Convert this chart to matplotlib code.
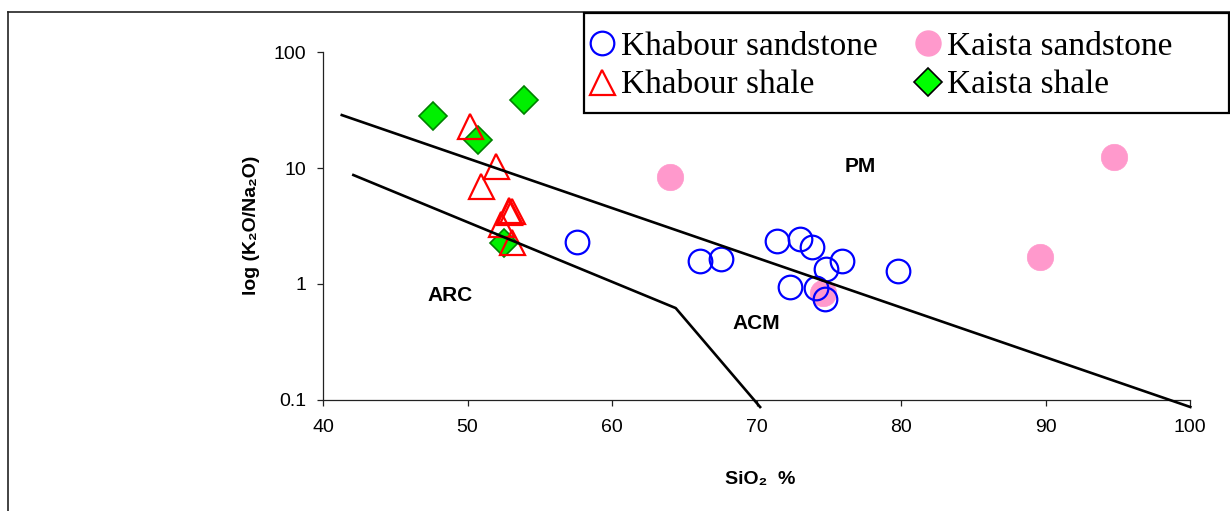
import matplotlib
matplotlib.use("Agg")
import matplotlib.pyplot as plt
from matplotlib.lines import Line2D
from matplotlib.patches import Rectangle
from matplotlib.ticker import FixedLocator, FixedFormatter, NullLocator

# ---------------- data ----------------
khabour_sand_x = [57.6, 66.1, 67.5, 71.4, 73.0, 73.8, 74.8, 75.9, 79.8, 72.3, 74.1, 74.7]
khabour_sand_y = [2.29, 1.59, 1.63, 2.36, 2.45, 2.10, 1.36, 1.59, 1.30, 0.95, 0.92, 0.74]

kaista_sand_x = [64.0, 89.6, 94.7, 74.6]
kaista_sand_y = [8.4, 1.71, 12.4, 0.83]

khabour_shale_x = [50.2, 52.0, 50.9, 52.9, 53.1, 52.9, 52.3, 53.1]
khabour_shale_y = [23.0, 10.5, 7.0, 4.35, 4.26, 4.18, 3.29, 2.29]

kaista_shale_x = [47.6, 53.9, 50.75, 52.5]
kaista_shale_y = [28.2, 38.5, 17.4, 2.24]

# field boundaries
arc_acm_x = [42.1, 64.4, 70.24]
arc_acm_y = [8.7, 0.62, 0.087]
acm_pm_x = [41.3, 100.0]
acm_pm_y = [28.6, 0.087]

field_labels = ["PM", "ARC", "ACM"]
field_x = [77.15, 48.8, 70.0]
field_y = [10.4, 0.80, 0.458]

x_ticks = [40, 50, 60, 70, 80, 90, 100]
y_ticks = [0.1, 1, 10, 100]
y_tick_labels = ["0.1", "1", "10", "100"]

legend_labels = ["Khabour sandstone", "Khabour shale", "Kaista sandstone", "Kaista shale"]

# ---------------- figure ----------------
W, H = 1230, 511
fig = plt.figure(figsize=(W / 100, H / 100), dpi=100)

def fx(px):
    return px / W

def fy(py):
    return 1 - py / H

sans = ["Liberation Sans", "DejaVu Sans"]
serif = ["Liberation Serif", "DejaVu Serif"]

ax = fig.add_axes([fx(323), fy(400), fx(1190.3) - fx(323), fy(52) - fy(400)])
ax.set_yscale("log")
ax.set_xlim(40, 100)
ax.set_ylim(0.1, 100)

for s in ["top", "right"]:
    ax.spines[s].set_visible(False)
for s in ["left", "bottom"]:
    ax.spines[s].set_color("#222222")
    ax.spines[s].set_linewidth(0.9)

ax.xaxis.set_major_locator(FixedLocator(x_ticks))
ax.yaxis.set_major_locator(FixedLocator(y_ticks))
ax.yaxis.set_major_formatter(FixedFormatter(y_tick_labels))
ax.yaxis.set_minor_locator(NullLocator())
ax.xaxis.set_minor_locator(NullLocator())
ax.tick_params(axis="both", direction="out", length=4, width=0.9, color="#222222",
               labelsize=14)
ax.tick_params(axis="x", pad=10)
ax.tick_params(axis="y", pad=8)
for lab in ax.get_xticklabels() + ax.get_yticklabels():
    lab.set_fontfamily(sans)

# scatter series
ax.plot(kaista_sand_x, kaista_sand_y, linestyle="none", marker="o", markersize=19,
        markerfacecolor="#FF99CC", markeredgecolor="#FF99CC", markeredgewidth=0.5, zorder=2)
ax.plot(kaista_shale_x, kaista_shale_y, linestyle="none", marker="D", markersize=14,
        markerfacecolor="#00F000", markeredgecolor="#008000", markeredgewidth=1.2, zorder=2)
ax.plot(khabour_sand_x, khabour_sand_y, linestyle="none", marker="o", markersize=17,
        markerfacecolor="none", markeredgecolor="#0000FF", markeredgewidth=1.6, zorder=2)
ax.plot(khabour_shale_x, khabour_shale_y, linestyle="none", marker="^", markersize=18,
        markerfacecolor="none", markeredgecolor="#FF0000", markeredgewidth=1.6, zorder=2)

# boundary lines
ax.plot(arc_acm_x, arc_acm_y, color="black", linewidth=1.9, clip_on=False, zorder=3)
ax.plot(acm_pm_x, acm_pm_y, color="black", linewidth=1.9, clip_on=False, zorder=3)

for t, x, y in zip(field_labels, field_x, field_y):
    ax.text(x, y, t, ha="center", va="center", fontsize=15, fontweight="bold",
            family=sans)

# axis titles
fig.text(fx(760), fy(484), "SiO\u2082  %", ha="center", va="baseline", fontsize=14,
         fontweight="bold", family=sans)
fig.text(fx(251), fy(225), "log (K\u2082O/Na\u2082O)", ha="center", va="center",
         rotation=90, fontsize=14, fontweight="bold", family=sans)

# figure border (left and top)
fig.add_artist(Line2D([fx(8), fx(8)], [0, fy(12)], color="#222222", linewidth=1.2))
fig.add_artist(Line2D([fx(8), 1], [fy(12), fy(12)], color="#222222", linewidth=1.2))

# legend frame
fig.add_artist(Rectangle((fx(583.5), fy(113)), fx(1229) - fx(583.5), fy(13) - fy(113),
                         facecolor="white", edgecolor="black", linewidth=1.6, zorder=5))

h_ksand = Line2D([], [], linestyle="none", marker="o", markersize=17, markerfacecolor="none",
                 markeredgecolor="#0000FF", markeredgewidth=1.6)
h_kshale = Line2D([], [], linestyle="none", marker="^", markersize=18, markerfacecolor="none",
                  markeredgecolor="#FF0000", markeredgewidth=1.6)
h_ksand2 = Line2D([], [], linestyle="none", marker="o", markersize=18,
                  markerfacecolor="#FF99CC", markeredgecolor="#FF99CC")
h_kshale2 = Line2D([], [], linestyle="none", marker="D", markersize=14,
                   markerfacecolor="#00FF00", markeredgecolor="black", markeredgewidth=1.2)

fs_leg = 24
leg_kw = dict(loc="upper left", frameon=False, borderpad=0, borderaxespad=0,
              handlelength=0.58, handletextpad=0.28, labelspacing=0.25,
              prop={"family": serif, "size": fs_leg})
leg1 = fig.legend([h_ksand, h_kshale], legend_labels[:2],
                  bbox_to_anchor=(fx(592), fy(31)), **leg_kw)
leg2 = fig.legend([h_ksand2, h_kshale2], legend_labels[2:],
                  bbox_to_anchor=(fx(918.5), fy(31)), **leg_kw)
leg1.set_zorder(6)
leg2.set_zorder(6)

fig.savefig("out.png", dpi=100)
